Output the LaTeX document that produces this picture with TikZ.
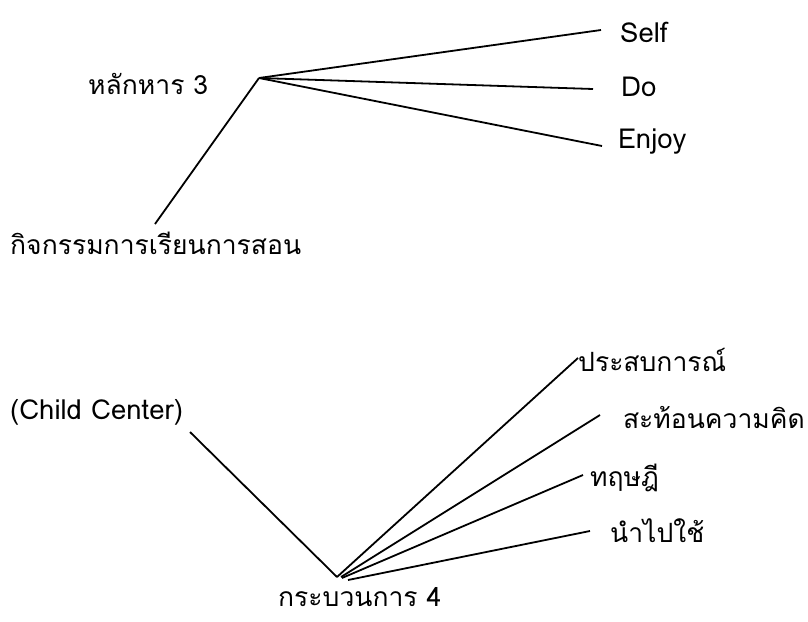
\documentclass[tikz,border=0pt]{standalone}
\usepackage{fontspec}
\newfontfamily\thaifont[Script=Thai]{Loma}
\begin{document}
\begin{tikzpicture}[x=1pt,y=-1pt]

      \tikzset{word/.style={font=\thaifont\fontsize{26.5}{30}\selectfont, inner sep=0pt, anchor=west},
               latin/.style={word, font=\thaifont\fontsize{27.5}{30}\selectfont},
               twig/.style={line width=1.8pt}}
      \useasboundingbox (0,0) rectangle (808,621);
%% Upper tree
      	\coordinate (hubA) at (259,78);
      	\coordinate (endAct) at (155,224);
      	\coordinate (endSelf) at (601,30);
      	\coordinate (endDo) at (593,89);
      	\coordinate (endEnjoy) at (602,146);
      	\node[word] (triple) at (88,84) {หลักหาร 3};
      	\node[latin] (self) at (620,32) {Self};
      	\node[latin] (do) at (621,87) {Do};
      	\node[latin] (enjoy) at (618,142) {Enjoy};
      	\node[word] (activity) at (10,243) {กิจกรรมการเรียนการสอน};
%% Lower tree
      	\coordinate (hubB) at (337,577);
      	\coordinate (endChild) at (190,432);
      	\coordinate (endExp) at (578,358);
      	\coordinate (endRefl) at (600,415);
      	\coordinate (endTheo) at (583,475);
      	\coordinate (endUse) at (590,531);
      	\node[latin] (child) at (10,412) {(Child Center)};
      	\node[word] (exp) at (578,360) {ประสบการณ์};
      	\node[word, anchor=east] (refl) at (805,418) {สะท้อนความคิด};
      	\node[word] (theo) at (590,478) {ทฤษฎี};
      	\node[word] (use) at (610,531) {นำไปใช้};
      	\node[word, anchor=base west] (process) at (278,606) {กระบวนการ 4};
%Edges
		\draw[twig] (endAct) -- (hubA);
		\draw[twig] (hubA) -- (endSelf);
		\draw[twig] (hubA) -- (endDo);
		\draw[twig] (hubA) -- (endEnjoy);
		\draw[twig] (endChild) -- (hubB);
		\draw[twig] (hubB) -- (endExp);
		\draw[twig] ([xshift=4pt]hubB) -- (endRefl);
		\draw[twig] ([xshift=5pt,yshift=-1pt]hubB) -- (endTheo);
		\draw[twig] ([xshift=11pt,yshift=-3pt]hubB) -- (endUse);

	\end{tikzpicture}
\end{document}
